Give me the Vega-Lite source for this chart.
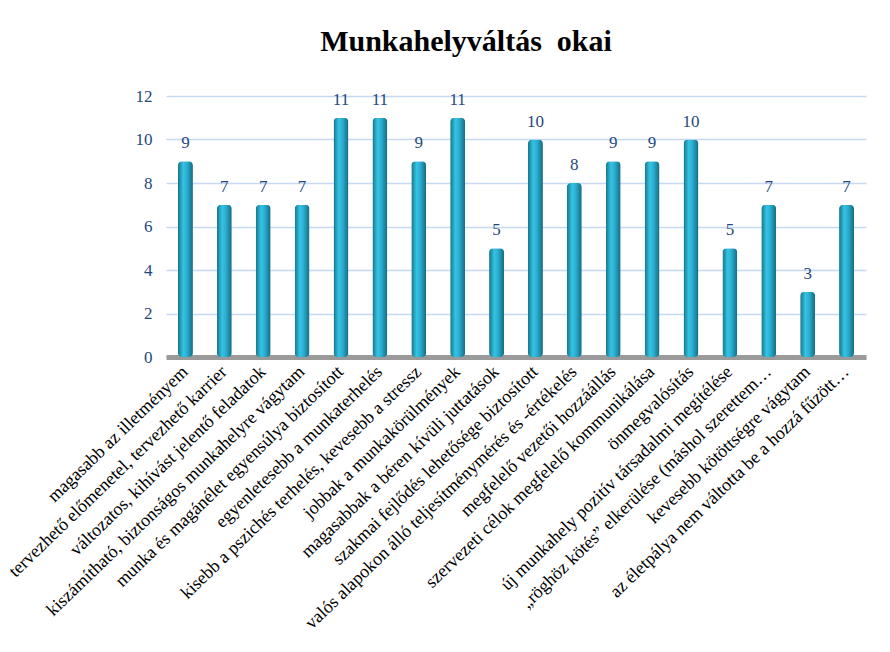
{
  "$schema": "https://vega.github.io/schema/vega-lite/v6.json",
  "autosize": "none",
  "width": 700,
  "height": 261,
  "padding": {"left": 166, "top": 96, "right": 24, "bottom": 295},
  "background": "white",
  "title": {
    "text": "Munkahelyváltás\u00a0\u00a0okai",
    "font": "Liberation Serif",
    "fontSize": 30,
    "fontWeight": "bold",
    "color": "black",
    "anchor": "middle",
    "dx": -50,
    "offset": 30
  },
  "data": {
    "values": [
      {"ok": "magasabb az illetményem", "n": 9},
      {"ok": "tervezhető előmenetel, tervezhető karrier", "n": 7},
      {"ok": "változatos, kihívást jelentő feladatok", "n": 7},
      {"ok": "kiszámítható, biztonságos munkahelyre vágytam", "n": 7},
      {"ok": "munka és magánélet egyensúlya biztosított", "n": 11},
      {"ok": "egyenletesebb a munkaterhelés", "n": 11},
      {"ok": "kisebb a pszichés terhelés, kevesebb a stressz", "n": 9},
      {"ok": "jobbak a munkakörülmények", "n": 11},
      {"ok": "magasabbak a béren kívüli juttatások", "n": 5},
      {"ok": "szakmai fejlődés lehetősége biztosított", "n": 10},
      {"ok": "valós alapokon álló teljesítménymérés és -értékelés", "n": 8},
      {"ok": "megfelelő vezetői hozzáállás", "n": 9},
      {"ok": "szervezeti célok megfelelő kommunikálása", "n": 9},
      {"ok": "önmegvalósítás", "n": 10},
      {"ok": "új munkahely pozitív társadalmi megítélése", "n": 5},
      {"ok": "„röghöz kötés” elkerülése  (máshol szerettem…", "n": 7},
      {"ok": "kevesebb kötöttségre vágytam", "n": 3},
      {"ok": "az életpálya nem váltotta be a hozzá fűzött…", "n": 7}
    ]
  },
  "encoding": {
    "x": {
      "field": "ok",
      "type": "nominal",
      "sort": null,
      "title": null,
      "axis": {
        "labelAngle": -44,
        "labelAlign": "right",
        "labelBaseline": "middle",
        "labelFont": "Liberation Serif",
        "labelFontSize": 18,
        "labelColor": "black",
        "labelLimit": 0,
        "labelPadding": 12,
        "ticks": false,
        "domainColor": "#9a9a9a",
        "domainWidth": 5
      }
    },
    "y": {
      "field": "n",
      "type": "quantitative",
      "title": null,
      "scale": {"domain": [0, 12]},
      "axis": {
        "values": [0, 2, 4, 6, 8, 10, 12],
        "labelFont": "Liberation Serif",
        "labelFontSize": 17,
        "labelColor": "#1f497d",
        "labelPadding": 14,
        "ticks": false,
        "domain": false,
        "gridColor": "#c6d9f1",
        "gridWidth": 1.5
      }
    }
  },
  "layer": [
    {
      "mark": {
        "type": "bar",
        "width": 15,
        "cornerRadius": 4,
        "color": {
          "gradient": "linear",
          "x1": 0, "x2": 1, "y1": 0, "y2": 0,
          "stops": [
            {"offset": 0, "color": "#177389"},
            {"offset": 0.35, "color": "#35c3e4"},
            {"offset": 0.6, "color": "#2aaed0"},
            {"offset": 1, "color": "#156a80"}
          ]
        }
      }
    },
    {
      "mark": {
        "type": "text",
        "dy": -18,
        "font": "Liberation Serif",
        "fontSize": 17,
        "color": "#1f497d"
      },
      "encoding": {"text": {"field": "n", "type": "quantitative"}}
    }
  ],
  "config": {"font": "Liberation Serif", "view": {"stroke": null}}
}
